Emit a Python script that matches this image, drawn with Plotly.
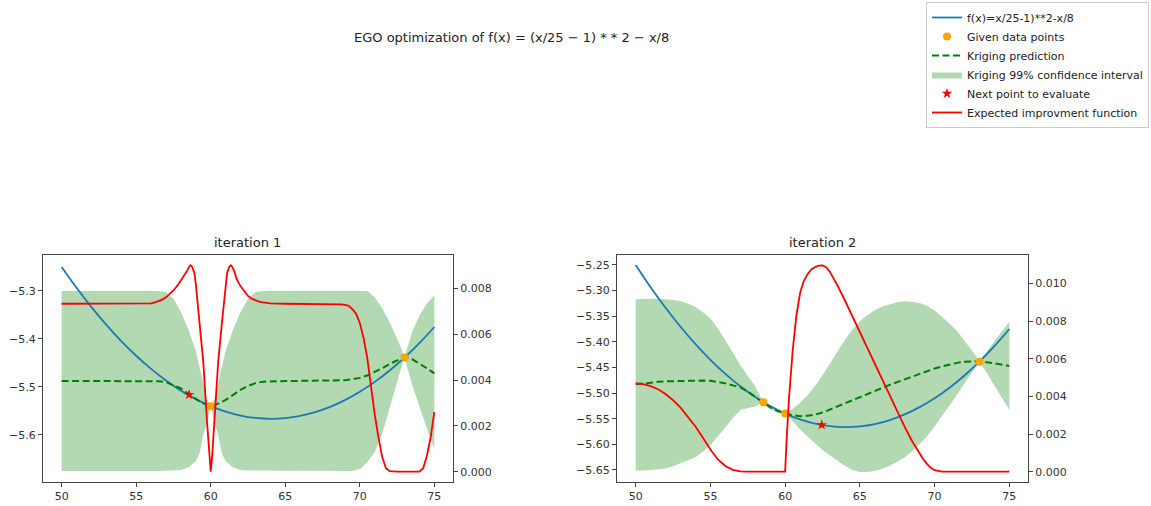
import numpy as np
import plotly.graph_objects as go

# Objective f(x) = (x/25 - 1)**2 - x/8 on the search interval
x_true = list(range(50, 76))
f_true = [-5.25, -5.2934, -5.3336, -5.3706, -5.4044, -5.435, -5.4624, -5.4866,
          -5.5076, -5.5254, -5.54, -5.5514, -5.5596, -5.5646, -5.5664, -5.565,
          -5.5604, -5.5526, -5.5416, -5.5274, -5.51, -5.4894, -5.4656, -5.4386,
          -5.4084, -5.375]

# ---------------- iteration 1 ----------------
it1_pts_x = [60, 73]
it1_pts_y = [-5.54, -5.4386]
it1_next_x = [58.55]
it1_next_y = [-5.516]

it1_x = [50, 50.5, 51, 51.5, 52, 52.5, 53, 53.5, 54, 54.5, 55, 55.5, 56, 56.5,
         57, 57.5, 58, 58.5, 59, 59.25, 59.5, 59.75, 60,
         60.25, 60.5, 60.75, 61, 61.5, 62, 62.5, 63, 63.5,
         64, 64.5, 65, 65.5, 66, 66.5, 67, 67.5, 68, 68.5, 69, 69.5, 70, 70.5,
         71, 71.5, 72, 72.5, 72.75, 73,
         73.25, 73.5, 74, 74.5, 75]
it1_mean = [-5.4875, -5.4875, -5.4875, -5.4875, -5.4875, -5.4875, -5.4875, -5.4875,
            -5.4875, -5.4875, -5.4875, -5.4875, -5.4877, -5.488,
            -5.490, -5.496, -5.503, -5.514, -5.525, -5.530, -5.534, -5.5375, -5.540,
            -5.538, -5.535, -5.531, -5.527, -5.516, -5.506, -5.498, -5.492, -5.489,
            -5.488, -5.4875, -5.4875, -5.4875, -5.4875, -5.4875, -5.4875, -5.4875,
            -5.4875, -5.4872, -5.486, -5.484, -5.481, -5.476,
            -5.469, -5.461, -5.452, -5.444, -5.441, -5.4386,
            -5.439, -5.442, -5.451, -5.461, -5.4715]
it1_hi = ([-5.300] * 14 +
          [-5.302, -5.316, -5.344, -5.380, -5.425, -5.458, -5.490, -5.525, -5.540] +
          [-5.525, -5.490, -5.458, -5.425, -5.380, -5.344, -5.316, -5.302, -5.300] +
          [-5.300] * 14 +
          [-5.313, -5.336, -5.365, -5.398, -5.417, -5.4386] +
          [-5.413, -5.386, -5.351, -5.326, -5.309])
it1_lo = ([-5.675] * 14 +
          [-5.675, -5.674, -5.673, -5.668, -5.655, -5.638, -5.600, -5.575, -5.540] +
          [-5.575, -5.600, -5.638, -5.655, -5.668, -5.673, -5.674, -5.675, -5.675] +
          [-5.675] * 12 + [-5.671, -5.657] +
          [-5.636, -5.598, -5.545, -5.489, -5.463, -5.4386] +
          [-5.466, -5.495, -5.541, -5.586, -5.630])

it1_ei_x = [50, 52, 54, 55,
            56, 56.25, 56.5, 56.75,
            57, 57.25, 57.5, 57.75,
            58, 58.25, 58.4, 58.55, 58.65, 58.75, 58.9,
            59, 59.25, 59.5, 59.75, 59.9,
            60,
            60.1, 60.25, 60.5, 60.75,
            61, 61.1, 61.25, 61.35, 61.45, 61.6, 61.75,
            62, 62.25, 62.5, 62.75,
            63, 63.25, 63.5,
            64, 65, 66, 67, 68,
            68.5, 68.75,
            69, 69.25, 69.5, 69.75,
            70, 70.25, 70.5, 70.75,
            71, 71.25, 71.5, 71.75,
            72, 72.5,
            73, 73.5,
            74, 74.25, 74.5, 74.75,
            75]
it1_ei = [0.00734, 0.00734, 0.00734, 0.00734,
          0.00736, 0.0074, 0.00745, 0.00752,
          0.00762, 0.00775, 0.00792, 0.00812,
          0.00836, 0.00858, 0.00876, 0.00895, 0.00902, 0.00896, 0.0087,
          0.0082, 0.0065, 0.0048, 0.0022, 0.0007,
          0.0,
          0.0007, 0.0022, 0.0048, 0.0065,
          0.0082, 0.0087, 0.00896, 0.00902, 0.00895, 0.00872, 0.0084,
          0.0081, 0.0079, 0.00768, 0.00756,
          0.00748, 0.00743, 0.0074,
          0.00736, 0.00734, 0.00734, 0.00734, 0.00734,
          0.00733, 0.00731,
          0.00729, 0.00725, 0.0071, 0.0069,
          0.0065, 0.00585, 0.00497, 0.0037,
          0.0025, 0.0015, 0.00065, 0.00015,
          0.00002, 0.0,
          0.0, 0.0,
          0.0, 0.00015, 0.0007, 0.0015,
          0.0026]

# ---------------- iteration 2 ----------------
it2_pts_x = [58.55, 60, 73]
it2_pts_y = [-5.518, -5.54, -5.4386]
it2_next_x = [62.45]
it2_next_y = [-5.562]

it2_x = [50, 50.5, 51, 51.5, 52, 52.5, 53, 53.5, 54, 54.5, 55, 55.5, 56, 56.5,
         57, 57.5, 58, 58.55, 59, 59.5, 60,
         60.5, 61, 61.5, 62, 62.5, 63, 63.5,
         64, 64.5, 65, 65.5, 66, 66.5, 67, 67.5, 68, 68.5, 69, 69.5, 70, 70.5,
         71, 71.5, 72, 72.5, 72.75, 73, 73.25, 73.5,
         74, 74.5, 75]
it2_mean = [-5.483, -5.481, -5.479, -5.478, -5.477, -5.4765, -5.476, -5.4755,
            -5.475, -5.4755, -5.476, -5.478, -5.481, -5.485,
            -5.489, -5.497, -5.507, -5.518, -5.528, -5.535, -5.540,
            -5.543, -5.545, -5.544, -5.542, -5.538, -5.532, -5.525,
            -5.519, -5.513, -5.507, -5.501, -5.495, -5.4895, -5.484, -5.4785,
            -5.473, -5.4675, -5.462, -5.457, -5.452, -5.448,
            -5.444, -5.441, -5.439, -5.438, -5.438, -5.4386, -5.439, -5.440,
            -5.442, -5.444, -5.447]
it2_hi = [-5.317, -5.316, -5.316, -5.316, -5.317, -5.318, -5.321, -5.325,
          -5.332, -5.342, -5.354, -5.374, -5.397, -5.422,
          -5.445, -5.466, -5.487, -5.518, -5.525, -5.532, -5.540,
          -5.531, -5.519, -5.504, -5.486, -5.465, -5.442, -5.418,
          -5.396, -5.376, -5.360, -5.348, -5.338, -5.331, -5.326, -5.3225,
          -5.321, -5.3215, -5.324, -5.330, -5.339, -5.351,
          -5.364, -5.379, -5.397, -5.417, -5.427, -5.4386, -5.428, -5.419,
          -5.399, -5.380, -5.361]
it2_lo = [-5.651, -5.651, -5.650, -5.649, -5.647, -5.643, -5.637, -5.631,
          -5.625, -5.614, -5.602, -5.585, -5.567, -5.549,
          -5.533, -5.529, -5.526, -5.518, -5.531, -5.538, -5.540,
          -5.555, -5.571, -5.584, -5.598, -5.611, -5.622, -5.632,
          -5.642, -5.650, -5.654, -5.654, -5.652, -5.6475, -5.642, -5.634,
          -5.625, -5.6135, -5.600, -5.584, -5.565, -5.545,
          -5.524, -5.503, -5.481, -5.459, -5.449, -5.4386, -5.450, -5.461,
          -5.485, -5.508, -5.533]

it2_ei_x = [50, 50.5, 51, 51.5, 52, 52.5, 53, 53.5, 54, 54.5, 55, 55.5, 56, 56.5,
            57, 57.5, 58, 59, 60, 60.1, 60.25, 60.5, 60.75, 61, 61.25, 61.5, 61.75,
            62, 62.25, 62.5, 62.75, 63, 63.25, 63.5, 64, 64.5, 65, 65.5, 66, 66.5,
            67, 67.5, 68, 68.5, 68.75, 69, 69.25, 69.5, 69.75, 70, 70.5, 71, 72,
            73, 74, 75]
it2_ei = [0.0047, 0.00466, 0.00455, 0.00438, 0.00413, 0.0038, 0.0034, 0.00293,
          0.0024, 0.0018, 0.00118, 0.00065, 0.0003, 0.0001,
          0.00002, 0.0, 0.0, 0.0, 0.0, 0.0017, 0.0038, 0.0064, 0.0083, 0.0095,
          0.01015, 0.0105, 0.01075,
          0.01088, 0.01095, 0.01097, 0.01087, 0.01062, 0.01028, 0.0099, 0.0091,
          0.00825, 0.00743, 0.00657, 0.0057, 0.00485,
          0.00403, 0.0032, 0.00238, 0.00162, 0.00127, 0.00094, 0.00065, 0.0004,
          0.0002, 0.00008, 0.0, 0.0, 0.0,
          0.0, 0.0, 0.0]

FONT = "DejaVu Sans"
BLUE = "#1f77b4"
ORANGE = "#ffa500"
GREEN = "#008000"
BAND = "rgba(0,128,0,0.3)"
RED = "#ff0000"
AXIS = "#444444"

fig = go.Figure()


def add_panel(xa, ya, ya2, x, mean, hi, lo, pts_x, pts_y, nx, ny, ei_x, ei, legend):
    x = np.asarray(x, dtype=float)
    hi = np.asarray(hi, dtype=float)
    lo = np.asarray(lo, dtype=float)
    fig.add_trace(go.Scatter(
        x=np.concatenate([x, x[::-1]]), y=np.concatenate([hi, lo[::-1]]),
        fill="toself", fillcolor=BAND, line=dict(width=0),
        mode="lines", name="Kriging 99% confidence interval", legendrank=4,
        showlegend=legend, hoverinfo="skip", xaxis=xa, yaxis=ya))
    fig.add_trace(go.Scatter(
        x=x_true, y=f_true, mode="lines", line=dict(color=BLUE, width=1.8, shape="spline"),
        name="f(x)=x/25-1)**2-x/8", legendrank=1, showlegend=legend, xaxis=xa, yaxis=ya))
    fig.add_trace(go.Scatter(
        x=x, y=mean, mode="lines",
        line=dict(color=GREEN, width=2, dash="7px,3.5px"),
        name="Kriging prediction", legendrank=3, showlegend=legend, xaxis=xa, yaxis=ya))
    fig.add_trace(go.Scatter(
        x=pts_x, y=pts_y, mode="markers", marker=dict(color=ORANGE, size=8),
        name="Given data points", legendrank=2, showlegend=legend, xaxis=xa, yaxis=ya))
    fig.add_trace(go.Scatter(
        x=nx, y=ny, mode="markers", marker=dict(color=RED, size=8, symbol="star"),
        name="Next point to evaluate", legendrank=5, showlegend=legend, xaxis=xa, yaxis=ya))
    fig.add_trace(go.Scatter(
        x=ei_x, y=ei, mode="lines", line=dict(color=RED, width=1.8),
        name="Expected improvment function", legendrank=6, showlegend=legend,
        xaxis=xa, yaxis=ya2))


add_panel("x", "y", "y2", it1_x, it1_mean, it1_hi, it1_lo, it1_pts_x, it1_pts_y,
          it1_next_x, it1_next_y, it1_ei_x, it1_ei, True)
add_panel("x2", "y3", "y4", it2_x, it2_mean, it2_hi, it2_lo, it2_pts_x, it2_pts_y,
          it2_next_x, it2_next_y, it2_ei_x, it2_ei, False)

W, H = 1151, 506
ydom = [1 - 482 / H, 1 - 255 / H]
dom1 = [43 / W, 453 / W]
dom2 = [617 / W, 1028 / W]

tickfont = dict(family=FONT, size=11, color="#333333")
common = dict(showgrid=False, zeroline=False, showline=True, linecolor=AXIS, linewidth=1,
              ticks="outside", ticklen=4, tickcolor=AXIS, tickfont=tickfont,
              automargin=False)

fig.update_layout(
    width=W, height=H, autosize=False,
    margin=dict(l=0, r=0, t=0, b=0, autoexpand=False),
    paper_bgcolor="white", plot_bgcolor="white",
    font=dict(family=FONT, size=11, color="#333333"),
    xaxis=dict(domain=dom1, anchor="y", range=[48.75, 76.25], dtick=5, tick0=50,
               mirror=True, **common),
    yaxis=dict(domain=ydom, anchor="x", range=[-5.698, -5.225], dtick=0.1, tick0=-5.3,
               tickformat=".1f", **common),
    yaxis2=dict(overlaying="y", anchor="x", side="right", range=[-0.00045, 0.00947],
                dtick=0.002, tick0=0, tickformat=".3f", **common),
    xaxis2=dict(domain=dom2, anchor="y3", range=[48.75, 76.25], dtick=5, tick0=50,
                mirror=True, **common),
    yaxis3=dict(domain=ydom, anchor="x2", range=[-5.6735, -5.2305], dtick=0.05,
                tick0=-5.25, tickformat=".2f", **common),
    yaxis4=dict(overlaying="y3", anchor="x2", side="right", range=[-0.00055, 0.01152],
                dtick=0.002, tick0=0, tickformat=".3f", **common),
    legend=dict(x=1149 / W, xanchor="right", y=1 - 2 / H, yanchor="top",
                bgcolor="white", bordercolor="#cccccc", borderwidth=1,
                font=dict(family=FONT, size=11, color="#222222"),
                itemwidth=30, tracegroupgap=0),
    showlegend=True,
    annotations=[
        dict(text="EGO optimization of f(x) = (x/25 − 1) * * 2 − x/8",
             x=512 / W, y=1 - 37 / H, xref="paper", yref="paper",
             xanchor="center", yanchor="middle", showarrow=False,
             font=dict(family=FONT, size=13, color="#222222")),
        dict(text="iteration 1", x=(dom1[0] + dom1[1]) / 2, y=1 - 242 / H,
             xref="paper", yref="paper", xanchor="center", yanchor="middle",
             showarrow=False, font=dict(family=FONT, size=13, color="#222222")),
        dict(text="iteration 2", x=(dom2[0] + dom2[1]) / 2, y=1 - 242 / H,
             xref="paper", yref="paper", xanchor="center", yanchor="middle",
             showarrow=False, font=dict(family=FONT, size=13, color="#222222")),
    ],
)

fig.write_html("out.html")
